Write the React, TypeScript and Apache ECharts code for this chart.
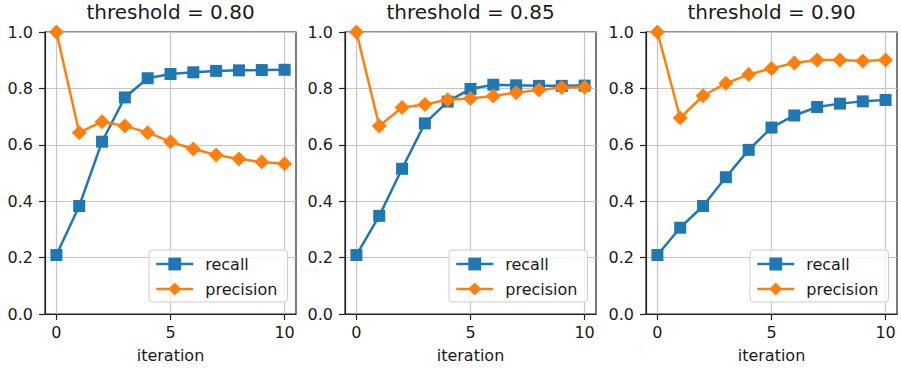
import React, { useEffect, useRef } from "react";
import * as echarts from "echarts";

const iterations = [0, 1, 2, 3, 4, 5, 6, 7, 8, 9, 10];
const xTicks = [0, 5, 10];
const thresholds = ["0.80", "0.85", "0.90"];

const recall80 = [0.209, 0.383, 0.611, 0.768, 0.836, 0.851, 0.857, 0.862, 0.864, 0.865, 0.866];
const precision80 = [1.0, 0.643, 0.682, 0.667, 0.643, 0.611, 0.585, 0.564, 0.55, 0.539, 0.533];

const recall85 = [0.209, 0.348, 0.515, 0.676, 0.753, 0.798, 0.813, 0.811, 0.809, 0.809, 0.81];
const precision85 = [1.0, 0.667, 0.732, 0.743, 0.76, 0.764, 0.773, 0.785, 0.794, 0.803, 0.804];

const recall90 = [0.209, 0.306, 0.383, 0.485, 0.582, 0.661, 0.704, 0.734, 0.746, 0.754, 0.759];
const precision90 = [1.0, 0.695, 0.774, 0.818, 0.849, 0.871, 0.89, 0.901, 0.901, 0.897, 0.901];

const recallSets = [recall80, recall85, recall90];
const precisionSets = [precision80, precision85, precision90];

const BLUE = "#1f77b4";
const ORANGE = "#ff7f0e";
const FONT = "DejaVu Sans";
const TEXT = "#1a1a1a";

const gridLefts = [45, 345, 646];
const GRID_W = 251;
const GRID_TOP = 32;
const GRID_H = 282;

export default function App() {
  const ref = useRef<HTMLDivElement>(null);

  useEffect(() => {
    if (!ref.current) return;
    const chart = echarts.init(ref.current, undefined, { renderer: "svg" });

    const grids: any[] = [];
    const xAxes: any[] = [];
    const yAxes: any[] = [];
    const series: any[] = [];
    const titles: any[] = [];
    const legends: any[] = [];

    gridLefts.forEach((left, i) => {
      grids.push({
        left,
        top: GRID_TOP,
        width: GRID_W,
        height: GRID_H,
        show: true,
        borderColor: "#222",
        borderWidth: 1.2,
        backgroundColor: "transparent",
      });
      xAxes.push({
        type: "value",
        gridIndex: i,
        min: -0.5,
        max: 10.5,
        name: "iteration",
        nameLocation: "middle",
        nameGap: 33,
        nameTextStyle: { fontFamily: FONT, fontSize: 16, color: TEXT },
        axisLine: { show: true, onZero: false, lineStyle: { color: "#222", width: 1.2 } },
        axisTick: { show: true, length: 6, customValues: xTicks, lineStyle: { color: "#222", width: 1.2 } },
        axisLabel: {
          customValues: xTicks,
          margin: 10,
          fontFamily: FONT,
          fontSize: 16,
          color: TEXT,
        },
        splitLine: { show: true, lineStyle: { color: "#c4c4c4", width: 1.2 } },
      });
      yAxes.push({
        type: "value",
        gridIndex: i,
        min: 0,
        max: 1,
        interval: 0.2,
        axisLine: { show: true, onZero: false, lineStyle: { color: "#222", width: 1.2 } },
        axisTick: { show: true, length: 6, lineStyle: { color: "#222", width: 1.2 } },
        axisLabel: {
          margin: 12,
          fontFamily: FONT,
          fontSize: 16,
          color: TEXT,
          formatter: (v: number) => v.toFixed(1),
        },
        splitLine: { show: true, lineStyle: { color: "#c4c4c4", width: 1.2 } },
      });
      titles.push({
        text: "threshold = " + thresholds[i],
        left: left + GRID_W / 2,
        top: 2,
        textAlign: "center",
        padding: 0,
        textStyle: { fontFamily: FONT, fontSize: 20, fontWeight: "normal", color: TEXT },
      });
      legends.push({
        orient: "vertical",
        left: left + 104,
        top: 250,
        padding: [6, 10, 5, 6],
        itemWidth: 37,
        itemHeight: 16,
        itemGap: 9,
        backgroundColor: "rgba(255,255,255,0.8)",
        borderColor: "#cccccc",
        borderWidth: 1,
        borderRadius: 3,
        selectedMode: false,
        lineStyle: { width: 2.5 },
        textStyle: { fontFamily: FONT, fontSize: 16, color: TEXT, padding: [0, 0, 0, 7] },
        data: ["recall", "precision"],
      });
      series.push({
        name: "recall",
        type: "line",
        xAxisIndex: i,
        yAxisIndex: i,
        data: iterations.map((x, k) => [x, recallSets[i][k]]),
        symbol: "rect",
        symbolSize: 12,
        itemStyle: { color: BLUE },
        lineStyle: { color: BLUE, width: 2.5 },
        z: 3,
      });
      series.push({
        name: "precision",
        type: "line",
        xAxisIndex: i,
        yAxisIndex: i,
        data: iterations.map((x, k) => [x, precisionSets[i][k]]),
        symbol: "diamond",
        symbolSize: 15,
        itemStyle: { color: ORANGE },
        lineStyle: { color: ORANGE, width: 2.5 },
        z: 4,
      });
    });

    chart.setOption({
      animation: false,
      backgroundColor: "#fff",
      title: titles,
      legend: legends,
      grid: grids,
      xAxis: xAxes,
      yAxis: yAxes,
      series,
    });

    return () => chart.dispose();
  }, []);

  return (
    <div
      ref={ref}
      style={{ position: "fixed", left: 0, top: 0, width: 901, height: 368 }}
    />
  );
}
